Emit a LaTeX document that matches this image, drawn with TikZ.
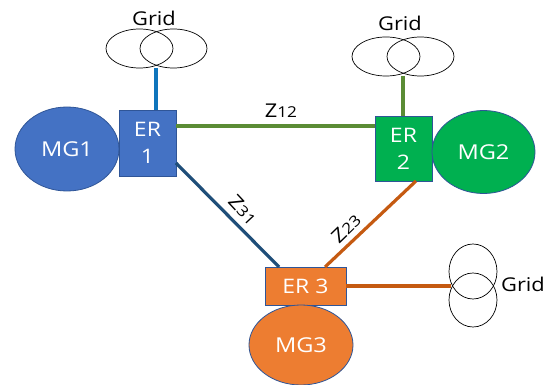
\documentclass[tikz,border=0pt]{standalone}
\usepackage{fontspec}
\usetikzlibrary{shapes.geometric}
\setmainfont[FakeStretch=1.15]{Open Sans}
\definecolor{cblue}{HTML}{4472C4}
\definecolor{cgreen}{HTML}{00B050}
\definecolor{corange}{HTML}{ED7D31}
\definecolor{eblue}{HTML}{2F5597}
\definecolor{lblue}{HTML}{0F75BC}
\definecolor{lgreen}{HTML}{5B8C35}
\definecolor{ldark}{HTML}{1F4E79}
\definecolor{lorange}{HTML}{C55A11}
\tikzset{
  mgnode/.style={ellipse,draw=eblue,line width=0.8pt,inner sep=0pt,text=white,font=\fontsize{20.5}{24}\selectfont},
  ernode/.style={rectangle,draw=eblue,line width=0.8pt,inner sep=0pt,text=white,align=center,font=\fontsize{20}{27}\selectfont},
  gridcoil/.style={ellipse,draw=black,line width=0.7pt,inner sep=0pt},
  gridtext/.style={text=black,inner sep=0pt,font=\fontsize{19}{22}\selectfont},
  zlabel/.style={text=black,inner sep=0pt},
  tie/.style={line width=3.2pt}
}
\newcommand{\zl}[2]{{\fontsize{19}{19}\selectfont Z}{\fontsize{15}{15}\selectfont #1#2}}
\begin{document}
\begin{tikzpicture}[x=1pt,y=-1pt]
\useasboundingbox (0,0) rectangle (550,385);
\fill[white] (0,0) rectangle (550,385);
% nodes
\node[ernode,fill=cblue,minimum width=57pt,minimum height=66pt] (er1) at (147.5,143) {ER\\1};
\node[mgnode,fill=cblue,minimum width=104pt,minimum height=84pt] (mg1) at (67,149) {MG1};
\node[ernode,fill=cgreen,minimum width=57pt,minimum height=65pt] (er2) at (403.5,148.5) {ER\\2};
\node[mgnode,fill=cgreen,minimum width=103pt,minimum height=83pt] (mg2) at (483.5,152) {MG2};
\node[ernode,fill=corange,minimum width=81pt,minimum height=38pt] (er3) at (305.5,286) {ER 3};
\node[mgnode,fill=corange,minimum width=104pt,minimum height=80pt] (mg3) at (301,345) {MG3};
% grid transformers
\node[gridcoil,minimum width=67pt,minimum height=39pt] (g1a) at (139.5,48.5) {};
\node[gridcoil,minimum width=67pt,minimum height=39pt] (g1b) at (173.5,48.5) {};
\node[gridcoil,minimum width=68pt,minimum height=39pt] (g2a) at (386,56.5) {};
\node[gridcoil,minimum width=67pt,minimum height=39pt] (g2b) at (420.5,56.5) {};
\node[gridcoil,minimum width=48pt,minimum height=55pt] (g3a) at (473,271.5) {};
\node[gridcoil,minimum width=48pt,minimum height=54pt] (g3b) at (473,300) {};
\node[gridtext] (t1) at (154,18) {Grid};
\node[gridtext] (t2) at (400,23) {Grid};
\node[gridtext] (t3) at (523,284) {Grid};
% tie coordinates
\coordinate (g1p) at (156,68);
\coordinate (er1t) at (156,110);
\coordinate (er1r) at (176,126);
\coordinate (er2l) at (375,126);
\coordinate (g2p) at (403,76);
\coordinate (er2t) at (403,116);
\coordinate (er1d) at (176,163);
\coordinate (er3a) at (279,267);
\coordinate (er3b) at (325,267);
\coordinate (er2d) at (416,181);
\coordinate (er3r) at (346,286);
\coordinate (g3p) at (451,286);
% connectors
\draw[tie,lblue] (g1p) -- (er1t);
\draw[tie,lgreen] (er1r) -- (er2l);
\draw[tie,lgreen] (g2p) -- (er2t);
\draw[tie,ldark] (er1d) -- (er3a);
\draw[tie,lorange] (er3b) -- (er2d);
\draw[tie,lorange] (er3r) -- (g3p);
% labels
\node[zlabel] (z12) at (281,111) {\zl12};
\node[zlabel,rotate=-47] (z31) at (243,210) {\zl31};
\node[zlabel,rotate=44] (z23) at (346,228) {\zl23};
\end{tikzpicture}
\end{document}
